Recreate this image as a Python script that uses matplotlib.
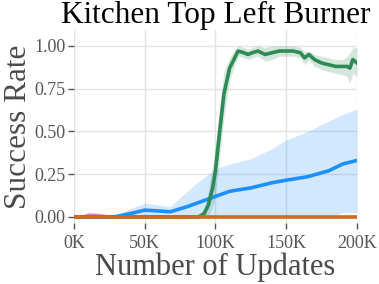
import matplotlib
matplotlib.use("Agg")
import matplotlib.pyplot as plt

# --- data (x in thousands of updates) ---
blue_x = [0, 10, 20, 28, 40, 50, 60, 68, 80, 90, 100, 110, 125, 140, 150, 165, 180, 190, 200]
blue_y = [0.0, 0.0, 0.0, 0.0, 0.02, 0.04, 0.035, 0.03, 0.06, 0.09, 0.12, 0.15, 0.17, 0.20, 0.215, 0.235, 0.27, 0.31, 0.33]
blue_hi = [0.0, 0.0, 0.0, 0.0, 0.05, 0.08, 0.07, 0.06, 0.15, 0.22, 0.28, 0.31, 0.34, 0.40, 0.45, 0.50, 0.56, 0.60, 0.63]
blue_lo = [0.0, 0.0, 0.0, 0.0, 0.0, 0.0, 0.0, 0.0, 0.0, 0.0, 0.0, 0.0, 0.0, 0.0, 0.0, 0.0, 0.0, 0.025, 0.025]

green_x = [0, 88, 92, 95, 98, 100, 103, 106, 110, 113, 116, 120, 123, 126, 130, 135, 140, 145, 150, 155,
           160, 163, 166, 170, 175, 180, 185, 190, 193, 195, 197, 200]
green_y = [0.0, 0.0, 0.02, 0.07, 0.17, 0.27, 0.50, 0.72, 0.87, 0.92, 0.97, 0.96, 0.95, 0.96, 0.97, 0.95, 0.96, 0.97, 0.97, 0.97,
           0.96, 0.93, 0.95, 0.92, 0.90, 0.89, 0.88, 0.88, 0.88, 0.87, 0.92, 0.90]
green_hi = [0.0, 0.0, 0.05, 0.15, 0.30, 0.42, 0.65, 0.85, 0.93, 0.97, 1.0, 0.99, 0.98, 0.99, 1.0, 0.99, 1.0, 1.0, 1.0, 1.0,
            0.99, 0.97, 0.97, 0.95, 0.94, 0.93, 0.92, 0.92, 0.94, 0.96, 0.99, 0.99]
green_lo = [0.0, 0.0, 0.0, 0.01, 0.06, 0.12, 0.35, 0.58, 0.80, 0.87, 0.94, 0.93, 0.92, 0.93, 0.94, 0.91, 0.92, 0.94, 0.94, 0.94,
            0.93, 0.89, 0.92, 0.88, 0.86, 0.85, 0.84, 0.83, 0.82, 0.78, 0.84, 0.82]

pink_x = [0, 5, 10, 15, 20, 25, 30, 200]
pink_y = [0.0, 0.0, 0.012, 0.012, 0.008, 0.004, 0.0, 0.0]
pink_hi = [0.0, 0.0, 0.03, 0.025, 0.02, 0.01, 0.0, 0.0]

orange_x = [0, 200]
orange_y = [0.0, 0.0]

xticks = [0, 50, 100, 150, 200]
xtick_labels = ["0K", "50K", "100K", "150K", "200K"]
yticks = [0.0, 0.25, 0.5, 0.75, 1.0]
ytick_labels = ["0.00", "0.25", "0.50", "0.75", "1.00"]

plt.rcParams["font.family"] = ["Liberation Serif", "DejaVu Serif"]

fig = plt.figure(figsize=(3.79, 2.84), dpi=100)
ax = fig.add_axes([0.195, 0.215, 0.747, 0.68])

BLUE = "#1e8fff"
GREEN = "#2e8b57"
PINK = "#e377c2"
ORANGE = "#d2691e"

ax.fill_between(blue_x, blue_lo, blue_hi, color=BLUE, alpha=0.2, lw=0)
ax.fill_between(green_x, green_lo, green_hi, color=GREEN, alpha=0.2, lw=0)
ax.fill_between(pink_x, pink_y, pink_hi, color=PINK, alpha=0.3, lw=0)
ax.plot(pink_x, pink_y, color=PINK, lw=1.5)
ax.plot(blue_x, blue_y, color=BLUE, lw=2.6)
ax.plot(green_x, green_y, color=GREEN, lw=2.6)
ax.plot(orange_x, orange_y, color=ORANGE, lw=2.6)

ax.set_xlim(0, 200)
ax.set_ylim(-0.035, 1.094)
ax.set_xticks(xticks)
ax.set_xticklabels(xtick_labels)
ax.set_yticks(yticks)
ax.set_yticklabels(ytick_labels)

for s in ax.spines.values():
    s.set_visible(False)
ax.grid(True, color="#e3e3e3", lw=1)
ax.set_axisbelow(True)
ax.tick_params(axis="both", labelsize=13, colors="#555555", length=4, width=1, pad=2)
ax.tick_params(axis="x", pad=5)

ax.set_title("Kitchen Top Left Burner", fontsize=22.5, color="black", pad=3)
ax.set_xlabel("Number of Updates", fontsize=22, color="#4a4a4a", labelpad=0)
ax.set_ylabel("Success Rate", fontsize=22.5, color="#4a4a4a", labelpad=1)

fig.savefig("out.png", dpi=100)
